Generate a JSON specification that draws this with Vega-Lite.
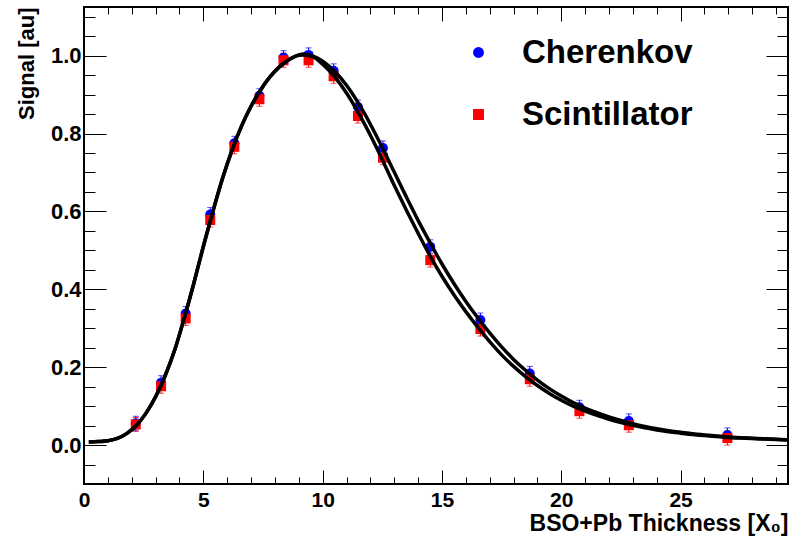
{
  "$schema": "https://vega.github.io/schema/vega-lite/v6.json",
  "width": 704,
  "height": 477,
  "autosize": "none",
  "padding": {"left": 84, "top": 7, "right": 10, "bottom": 53},
  "background": "white",
  "config": {
    "view": {"stroke": "black", "strokeWidth": 2},
    "axis": {
      "domain": false, "grid": false,
      "tickColor": "black", "tickWidth": 1,
      "labelFont": "Liberation Sans", "labelFontWeight": "bold", "labelFontSize": 22, "labelColor": "black",
      "labelFlush": false, "labelOverlap": false,
      "titleFont": "Liberation Sans", "titleFontWeight": "bold", "titleFontSize": 22, "titleColor": "black"
    },
    "legend": {
      "labelFont": "Liberation Sans", "labelFontWeight": "bold", "labelFontSize": 33, "labelColor": "black",
      "labelLimit": 400, "symbolOpacity": 1,
      "symbolSize": 120, "symbolStrokeWidth": 0, "rowPadding": 28, "labelOffset": 27, "padding": 0
    }
  },
  "datasets": {
    "pts": [
      {"series": "Cherenkov", "t": 2.17, "v": 0.056, "lo": 0.038, "hi": 0.074},
      {"series": "Cherenkov", "t": 3.23, "v": 0.160, "lo": 0.142, "hi": 0.178},
      {"series": "Cherenkov", "t": 4.26, "v": 0.338, "lo": 0.320, "hi": 0.356},
      {"series": "Cherenkov", "t": 5.29, "v": 0.592, "lo": 0.574, "hi": 0.610},
      {"series": "Cherenkov", "t": 6.30, "v": 0.775, "lo": 0.757, "hi": 0.793},
      {"series": "Cherenkov", "t": 7.35, "v": 0.897, "lo": 0.879, "hi": 0.915},
      {"series": "Cherenkov", "t": 8.36, "v": 0.995, "lo": 0.977, "hi": 1.013},
      {"series": "Cherenkov", "t": 9.41, "v": 1.002, "lo": 0.984, "hi": 1.020},
      {"series": "Cherenkov", "t": 10.46, "v": 0.961, "lo": 0.943, "hi": 0.979},
      {"series": "Cherenkov", "t": 11.48, "v": 0.868, "lo": 0.850, "hi": 0.886},
      {"series": "Cherenkov", "t": 12.53, "v": 0.763, "lo": 0.745, "hi": 0.781},
      {"series": "Cherenkov", "t": 14.51, "v": 0.509, "lo": 0.491, "hi": 0.527},
      {"series": "Cherenkov", "t": 16.61, "v": 0.321, "lo": 0.303, "hi": 0.339},
      {"series": "Cherenkov", "t": 18.68, "v": 0.184, "lo": 0.166, "hi": 0.202},
      {"series": "Cherenkov", "t": 20.76, "v": 0.097, "lo": 0.079, "hi": 0.115},
      {"series": "Cherenkov", "t": 22.83, "v": 0.062, "lo": 0.044, "hi": 0.080},
      {"series": "Cherenkov", "t": 26.96, "v": 0.026, "lo": 0.008, "hi": 0.044},
      {"series": "Scintillator", "t": 2.17, "v": 0.053, "lo": 0.035, "hi": 0.071},
      {"series": "Scintillator", "t": 3.23, "v": 0.151, "lo": 0.133, "hi": 0.169},
      {"series": "Scintillator", "t": 4.26, "v": 0.325, "lo": 0.307, "hi": 0.343},
      {"series": "Scintillator", "t": 5.29, "v": 0.578, "lo": 0.560, "hi": 0.596},
      {"series": "Scintillator", "t": 6.30, "v": 0.766, "lo": 0.748, "hi": 0.784},
      {"series": "Scintillator", "t": 7.35, "v": 0.888, "lo": 0.870, "hi": 0.906},
      {"series": "Scintillator", "t": 8.36, "v": 0.988, "lo": 0.970, "hi": 1.006},
      {"series": "Scintillator", "t": 9.41, "v": 0.988, "lo": 0.970, "hi": 1.006},
      {"series": "Scintillator", "t": 10.46, "v": 0.947, "lo": 0.929, "hi": 0.965},
      {"series": "Scintillator", "t": 11.48, "v": 0.845, "lo": 0.827, "hi": 0.863},
      {"series": "Scintillator", "t": 12.53, "v": 0.738, "lo": 0.720, "hi": 0.756},
      {"series": "Scintillator", "t": 14.51, "v": 0.475, "lo": 0.457, "hi": 0.493},
      {"series": "Scintillator", "t": 16.61, "v": 0.298, "lo": 0.280, "hi": 0.316},
      {"series": "Scintillator", "t": 18.68, "v": 0.169, "lo": 0.151, "hi": 0.187},
      {"series": "Scintillator", "t": 20.76, "v": 0.087, "lo": 0.069, "hi": 0.105},
      {"series": "Scintillator", "t": 22.83, "v": 0.051, "lo": 0.033, "hi": 0.069},
      {"series": "Scintillator", "t": 26.96, "v": 0.018, "lo": 0.000, "hi": 0.036}
    ],
    "fit": [
      {"series": "Cherenkov", "t": 0.2, "v": 0.008},
      {"series": "Cherenkov", "t": 0.6, "v": 0.009},
      {"series": "Cherenkov", "t": 1.0, "v": 0.011},
      {"series": "Cherenkov", "t": 1.4, "v": 0.017},
      {"series": "Cherenkov", "t": 1.8, "v": 0.030},
      {"series": "Cherenkov", "t": 2.2, "v": 0.051},
      {"series": "Cherenkov", "t": 2.6, "v": 0.082},
      {"series": "Cherenkov", "t": 3.0, "v": 0.124},
      {"series": "Cherenkov", "t": 3.4, "v": 0.178},
      {"series": "Cherenkov", "t": 3.8, "v": 0.244},
      {"series": "Cherenkov", "t": 4.2, "v": 0.326},
      {"series": "Cherenkov", "t": 4.6, "v": 0.415},
      {"series": "Cherenkov", "t": 5.0, "v": 0.510},
      {"series": "Cherenkov", "t": 5.4, "v": 0.600},
      {"series": "Cherenkov", "t": 5.8, "v": 0.684},
      {"series": "Cherenkov", "t": 6.2, "v": 0.757},
      {"series": "Cherenkov", "t": 6.6, "v": 0.819},
      {"series": "Cherenkov", "t": 7.0, "v": 0.870},
      {"series": "Cherenkov", "t": 7.4, "v": 0.912},
      {"series": "Cherenkov", "t": 7.8, "v": 0.946},
      {"series": "Cherenkov", "t": 8.2, "v": 0.972},
      {"series": "Cherenkov", "t": 8.6, "v": 0.990},
      {"series": "Cherenkov", "t": 9.0, "v": 1.002},
      {"series": "Cherenkov", "t": 9.2, "v": 1.004},
      {"series": "Cherenkov", "t": 9.6, "v": 0.999},
      {"series": "Cherenkov", "t": 10.0, "v": 0.986},
      {"series": "Cherenkov", "t": 10.5, "v": 0.960},
      {"series": "Cherenkov", "t": 11.0, "v": 0.924},
      {"series": "Cherenkov", "t": 11.5, "v": 0.878},
      {"series": "Cherenkov", "t": 12.0, "v": 0.824},
      {"series": "Cherenkov", "t": 12.5, "v": 0.764},
      {"series": "Cherenkov", "t": 13.0, "v": 0.701},
      {"series": "Cherenkov", "t": 13.5, "v": 0.638},
      {"series": "Cherenkov", "t": 14.0, "v": 0.577},
      {"series": "Cherenkov", "t": 14.5, "v": 0.520},
      {"series": "Cherenkov", "t": 15.0, "v": 0.465},
      {"series": "Cherenkov", "t": 15.5, "v": 0.415},
      {"series": "Cherenkov", "t": 16.0, "v": 0.369},
      {"series": "Cherenkov", "t": 16.5, "v": 0.327},
      {"series": "Cherenkov", "t": 17.0, "v": 0.288},
      {"series": "Cherenkov", "t": 17.5, "v": 0.252},
      {"series": "Cherenkov", "t": 18.0, "v": 0.220},
      {"series": "Cherenkov", "t": 18.5, "v": 0.192},
      {"series": "Cherenkov", "t": 19.0, "v": 0.167},
      {"series": "Cherenkov", "t": 19.5, "v": 0.145},
      {"series": "Cherenkov", "t": 20.0, "v": 0.126},
      {"series": "Cherenkov", "t": 20.5, "v": 0.109},
      {"series": "Cherenkov", "t": 21.0, "v": 0.095},
      {"series": "Cherenkov", "t": 21.5, "v": 0.083},
      {"series": "Cherenkov", "t": 22.0, "v": 0.072},
      {"series": "Cherenkov", "t": 22.5, "v": 0.063},
      {"series": "Cherenkov", "t": 23.0, "v": 0.055},
      {"series": "Cherenkov", "t": 23.5, "v": 0.048},
      {"series": "Cherenkov", "t": 24.0, "v": 0.042},
      {"series": "Cherenkov", "t": 24.5, "v": 0.037},
      {"series": "Cherenkov", "t": 25.0, "v": 0.033},
      {"series": "Cherenkov", "t": 25.5, "v": 0.029},
      {"series": "Cherenkov", "t": 26.0, "v": 0.026},
      {"series": "Cherenkov", "t": 26.5, "v": 0.0235},
      {"series": "Cherenkov", "t": 27.0, "v": 0.021},
      {"series": "Cherenkov", "t": 27.5, "v": 0.019},
      {"series": "Cherenkov", "t": 28.0, "v": 0.0175},
      {"series": "Cherenkov", "t": 28.5, "v": 0.016},
      {"series": "Cherenkov", "t": 29.0, "v": 0.0148},
      {"series": "Cherenkov", "t": 29.5, "v": 0.0138},
      {"series": "Scintillator", "t": 0.2, "v": 0.008},
      {"series": "Scintillator", "t": 0.6, "v": 0.009},
      {"series": "Scintillator", "t": 1.0, "v": 0.011},
      {"series": "Scintillator", "t": 1.4, "v": 0.017},
      {"series": "Scintillator", "t": 1.8, "v": 0.030},
      {"series": "Scintillator", "t": 2.2, "v": 0.051},
      {"series": "Scintillator", "t": 2.6, "v": 0.082},
      {"series": "Scintillator", "t": 3.0, "v": 0.124},
      {"series": "Scintillator", "t": 3.4, "v": 0.178},
      {"series": "Scintillator", "t": 3.8, "v": 0.244},
      {"series": "Scintillator", "t": 4.2, "v": 0.326},
      {"series": "Scintillator", "t": 4.6, "v": 0.415},
      {"series": "Scintillator", "t": 5.0, "v": 0.510},
      {"series": "Scintillator", "t": 5.4, "v": 0.600},
      {"series": "Scintillator", "t": 5.8, "v": 0.684},
      {"series": "Scintillator", "t": 6.2, "v": 0.757},
      {"series": "Scintillator", "t": 6.6, "v": 0.819},
      {"series": "Scintillator", "t": 7.0, "v": 0.870},
      {"series": "Scintillator", "t": 7.4, "v": 0.912},
      {"series": "Scintillator", "t": 7.8, "v": 0.946},
      {"series": "Scintillator", "t": 8.2, "v": 0.972},
      {"series": "Scintillator", "t": 8.6, "v": 0.990},
      {"series": "Scintillator", "t": 9.0, "v": 1.001},
      {"series": "Scintillator", "t": 9.2, "v": 1.002},
      {"series": "Scintillator", "t": 9.6, "v": 0.997},
      {"series": "Scintillator", "t": 10.0, "v": 0.978},
      {"series": "Scintillator", "t": 10.5, "v": 0.946},
      {"series": "Scintillator", "t": 11.0, "v": 0.904},
      {"series": "Scintillator", "t": 11.5, "v": 0.853},
      {"series": "Scintillator", "t": 12.0, "v": 0.7955},
      {"series": "Scintillator", "t": 12.5, "v": 0.733},
      {"series": "Scintillator", "t": 13.0, "v": 0.667},
      {"series": "Scintillator", "t": 13.5, "v": 0.6045},
      {"series": "Scintillator", "t": 14.0, "v": 0.544},
      {"series": "Scintillator", "t": 14.5, "v": 0.486},
      {"series": "Scintillator", "t": 15.0, "v": 0.4335},
      {"series": "Scintillator", "t": 15.5, "v": 0.386},
      {"series": "Scintillator", "t": 16.0, "v": 0.3426},
      {"series": "Scintillator", "t": 16.5, "v": 0.3027},
      {"series": "Scintillator", "t": 17.0, "v": 0.2655},
      {"series": "Scintillator", "t": 17.5, "v": 0.2316},
      {"series": "Scintillator", "t": 18.0, "v": 0.202},
      {"series": "Scintillator", "t": 18.5, "v": 0.176},
      {"series": "Scintillator", "t": 19.0, "v": 0.153},
      {"series": "Scintillator", "t": 19.5, "v": 0.1327},
      {"series": "Scintillator", "t": 20.0, "v": 0.1152},
      {"series": "Scintillator", "t": 20.5, "v": 0.0997},
      {"series": "Scintillator", "t": 21.0, "v": 0.0872},
      {"series": "Scintillator", "t": 21.5, "v": 0.0761},
      {"series": "Scintillator", "t": 22.0, "v": 0.066},
      {"series": "Scintillator", "t": 22.5, "v": 0.0579},
      {"series": "Scintillator", "t": 23.0, "v": 0.0505},
      {"series": "Scintillator", "t": 23.5, "v": 0.0441},
      {"series": "Scintillator", "t": 24.0, "v": 0.0387},
      {"series": "Scintillator", "t": 24.5, "v": 0.0343},
      {"series": "Scintillator", "t": 25.0, "v": 0.0306},
      {"series": "Scintillator", "t": 25.5, "v": 0.0271},
      {"series": "Scintillator", "t": 26.0, "v": 0.0244},
      {"series": "Scintillator", "t": 26.5, "v": 0.022},
      {"series": "Scintillator", "t": 27.0, "v": 0.0197},
      {"series": "Scintillator", "t": 27.5, "v": 0.018},
      {"series": "Scintillator", "t": 28.0, "v": 0.0166},
      {"series": "Scintillator", "t": 28.5, "v": 0.0153},
      {"series": "Scintillator", "t": 29.0, "v": 0.0141},
      {"series": "Scintillator", "t": 29.5, "v": 0.0132}
    ]
  },
  "layer": [
    {
      "data": {"name": "pts"},
      "mark": {"type": "rule", "strokeWidth": 1},
      "encoding": {
        "x": {"field": "t", "type": "quantitative",
          "scale": {"domain": [0, 29.5], "nice": false, "zero": false},
          "axis": {"orient": "bottom", "values": [0, 5, 10, 15, 20, 25], "format": "d", "tickSize": -14, "labelPadding": 19, "labelFontSize": 21,
            "title": "BSO+Pb Thickness [X₀]", "titleFontSize": 23, "titleAnchor": "end", "titleAlign": "right", "titleBaseline": "alphabetic", "titleX": 704, "titleY": 46}},
        "y": {"field": "lo", "type": "quantitative",
          "scale": {"domain": [-0.1, 1.125], "nice": false, "zero": false},
          "axis": {"orient": "left", "values": [0, 0.2, 0.4, 0.6, 0.8, 1.0], "format": ".1f", "tickSize": -22, "labelPadding": 25,
            "title": "Signal [au]", "titleAlign": "right", "titleBaseline": "alphabetic", "titleX": -51, "titleY": 0}},
        "y2": {"field": "hi"},
        "color": {"field": "series", "type": "nominal",
          "scale": {"domain": ["Cherenkov", "Scintillator"], "range": ["#0000ff", "#ff0000"]}}
      }
    },
    {
      "data": {"name": "pts"},
      "mark": {"type": "tick", "orient": "horizontal", "size": 6, "thickness": 1},
      "encoding": {
        "x": {"field": "t", "type": "quantitative",
          "axis": {"orient": "bottom", "values": [0,1,2,3,4,5,6,7,8,9,10,11,12,13,14,15,16,17,18,19,20,21,22,23,24,25,26,27,28,29], "tickSize": -7, "labels": false, "title": null}},
        "y": {"field": "hi", "type": "quantitative",
          "axis": {"orient": "left", "values": [-0.05,0,0.05,0.1,0.15,0.2,0.25,0.3,0.35,0.4,0.45,0.5,0.55,0.6,0.65,0.7,0.75,0.8,0.85,0.9,0.95,1.0,1.05,1.1], "tickSize": -11, "labels": false, "title": null}},
        "color": {"field": "series", "type": "nominal"}
      }
    },
    {
      "data": {"name": "pts"},
      "mark": {"type": "tick", "orient": "horizontal", "size": 6, "thickness": 1},
      "encoding": {
        "x": {"field": "t", "type": "quantitative",
          "axis": {"orient": "top", "values": [0, 5, 10, 15, 20, 25], "tickSize": -14, "labels": false, "title": null}},
        "y": {"field": "lo", "type": "quantitative",
          "axis": {"orient": "right", "values": [0, 0.2, 0.4, 0.6, 0.8, 1.0], "tickSize": -22, "labels": false, "title": null}},
        "color": {"field": "series", "type": "nominal"}
      }
    },
    {
      "data": {"name": "pts"},
      "mark": {"type": "point", "filled": true, "opacity": 1, "size": 100, "strokeWidth": 0},
      "encoding": {
        "x": {"field": "t", "type": "quantitative",
          "axis": {"orient": "top", "values": [0,1,2,3,4,5,6,7,8,9,10,11,12,13,14,15,16,17,18,19,20,21,22,23,24,25,26,27,28,29], "tickSize": -7, "labels": false, "title": null}},
        "y": {"field": "v", "type": "quantitative",
          "axis": {"orient": "right", "values": [-0.05,0,0.05,0.1,0.15,0.2,0.25,0.3,0.35,0.4,0.45,0.5,0.55,0.6,0.65,0.7,0.75,0.8,0.85,0.9,0.95,1.0,1.05,1.1], "tickSize": -11, "labels": false, "title": null}},
        "color": {"field": "series", "type": "nominal",
          "legend": {"orient": "none", "legendX": 378, "legendY": 29, "title": null, "direction": "vertical"}},
        "shape": {"field": "series", "type": "nominal",
          "scale": {"domain": ["Cherenkov", "Scintillator"], "range": ["circle", "square"]},
          "legend": {"orient": "none", "legendX": 378, "legendY": 29, "title": null, "direction": "vertical"}}
      }
    },
    {
      "data": {"name": "fit"},
      "mark": {"type": "line", "color": "black", "strokeWidth": 3.5, "interpolate": "monotone", "clip": true},
      "encoding": {
        "x": {"field": "t", "type": "quantitative", "axis": null},
        "y": {"field": "v", "type": "quantitative", "axis": null},
        "detail": {"field": "series", "type": "nominal"}
      }
    }
  ],
  "resolve": {"axis": {"x": "independent", "y": "independent"}}
}
